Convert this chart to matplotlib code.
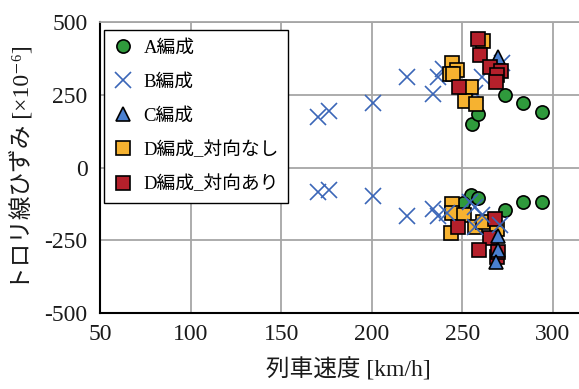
import matplotlib
matplotlib.use("Agg")
import matplotlib.pyplot as plt

plt.rcParams['font.family'] = ['Liberation Serif', 'Noto Sans CJK JP', 'DejaVu Sans']

# Train speed [km/h] and contact-wire strain [x10^-6], upper (tension) and lower (compression) peaks
a_up_x = [255.5, 258.8, 273.5, 283.6, 293.9]
a_up_y = [148, 183, 250, 222, 190]
a_lo_x = [255.0, 258.8, 250.5, 273.3, 283.6, 293.9]
a_lo_y = [-94, -106, -121, -146, -120, -120]

b_up_x = [170.1, 176.6, 200.5, 219.2, 233.5, 236.7, 239.5, 257.0, 260.6, 271.7]
b_up_y = [175, 195, 220, 312, 252, 312, 340, 255, 312, 358]
b_lo_x = [170.1, 176.6, 200.5, 219.2, 233.5, 236.7, 241.3, 254.2, 257.0, 260.6, 257.0, 270.7]
b_lo_y = [-83, -77, -98, -167, -144, -167, -157, -117, -135, -163, -203, -198]

c_up_x = [269.9]
c_up_y = [381]
c_lo_x = [269.9, 269.9, 268.4]
c_lo_y = [-235, -283, -324]

dn_up_x = [261.5, 244.0, 247.0, 243.2, 245.0, 255.0, 251.4, 257.3]
dn_up_y = [435, 358, 335, 320, 322, 278, 228, 217]
dn_lo_x = [244.0, 244.0, 251.0, 257.0, 261.6, 243.7, 268.9]
dn_lo_y = [-125, -157, -163, -203, -186, -226, -212]

dw_up_x = [258.4, 259.7, 248.1, 265.2, 271.3, 268.9, 268.4]
dw_up_y = [441, 387, 278, 346, 331, 318, 295]
dw_lo_x = [247.8, 268.0, 265.2, 259.2, 268.9, 269.5]
dw_lo_y = [-203, -178, -243, -283, -306, -290]

labels = ['A編成', 'B編成', 'C編成', 'D編成_対向なし', 'D編成_対向あり']
x_ticks = [50, 100, 150, 200, 250, 300]
y_ticks = [-500, -250, 0, 250, 500]

styles = {
    'A': dict(marker='o', color='#2f9a3c', markeredgecolor='black', markersize=9.5, markeredgewidth=1.2, linestyle='none'),
    'B': dict(marker='x', color='#3b66b8', markersize=11, markeredgewidth=1.2, linestyle='none'),
    'C': dict(marker='^', color='#4a80d0', markeredgecolor='black', markersize=10, markeredgewidth=1.2, linestyle='none'),
    'DN': dict(marker='s', color='#f6b230', markeredgecolor='black', markersize=9.5, markeredgewidth=1.2, linestyle='none'),
    'DW': dict(marker='s', color='#b5202b', markeredgecolor='black', markersize=9.5, markeredgewidth=1.2, linestyle='none'),
}

fig = plt.figure(figsize=(5.79, 3.89), dpi=100)
ax = fig.add_axes([100 / 579, 1 - 313 / 389, 1 - 100 / 579, (313 - 22) / 389])

# upper group
h_a, = ax.plot(a_up_x, a_up_y, zorder=3, label=labels[0], **styles['A'])
h_b, = ax.plot(b_up_x, b_up_y, zorder=4, label=labels[1], **styles['B'])
h_c, = ax.plot(c_up_x, c_up_y, zorder=5, label=labels[2], **styles['C'])
h_dn, = ax.plot(dn_up_x, dn_up_y, zorder=6, label=labels[3], **styles['DN'])
h_dw, = ax.plot(dw_up_x, dw_up_y, zorder=7, label=labels[4], **styles['DW'])

# lower group
ax.plot(a_lo_x, a_lo_y, zorder=3, **styles['A'])
ax.plot(dn_lo_x, dn_lo_y, zorder=4, **styles['DN'])
ax.plot(dw_lo_x, dw_lo_y, zorder=5, **styles['DW'])
ax.plot(b_lo_x, b_lo_y, zorder=6, **styles['B'])
ax.plot(c_lo_x, c_lo_y, zorder=7, **styles['C'])

ax.set_xlim(50, 50 + (579 - 100) / 90.6 * 50)
ax.set_ylim(-500, 500)
ax.set_xticks(x_ticks)
ax.set_yticks(y_ticks)
ax.set_xticklabels([str(v) for v in x_ticks])
ax.set_yticklabels([str(v) for v in y_ticks])

ax.grid(True, color='#a6a6a6', linewidth=1.3, zorder=0)
ax.set_axisbelow(True)
ax.spines['right'].set_visible(False)
ax.spines['top'].set_color('#a6a6a6')
ax.spines['top'].set_linewidth(1.3)
ax.spines['left'].set_linewidth(1.5)
ax.spines['bottom'].set_linewidth(1.5)
ax.tick_params(axis='both', length=0, labelsize=17, colors='#1a1a1a')
ax.tick_params(axis='y', pad=9)
ax.tick_params(axis='x', pad=8)

ax.set_xlabel('列車速度 [km/h]', fontsize=17, labelpad=1, color='#1a1a1a')
ax.xaxis.set_label_coords((348 - 100) / 479, -0.155)
ax.set_ylabel('トロリ線ひずみ [×10⁻⁶]', fontsize=17, labelpad=7, color='#1a1a1a')

leg = ax.legend(handles=[h_a, h_b, h_c, h_dn, h_dw], loc='upper left',
                bbox_to_anchor=(4 / 479, 1 - 8 / 291), fontsize=13.5,
                frameon=True, fancybox=False, edgecolor='black', framealpha=1,
                handlelength=1.0, handletextpad=0.6, labelspacing=0.9,
                borderpad=0.5, borderaxespad=0)
leg.get_frame().set_linewidth(1.0)
leg.set_zorder(10)

fig.savefig('out.png', dpi=100)
